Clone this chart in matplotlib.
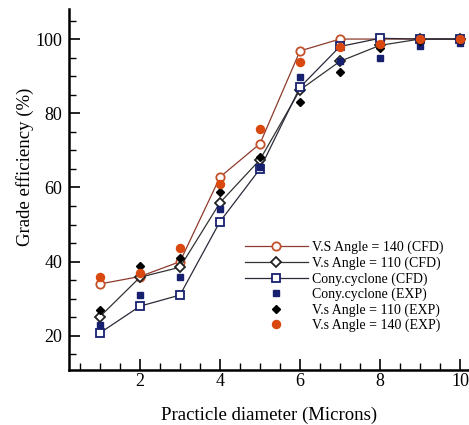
import matplotlib
matplotlib.use("Agg")
import matplotlib.pyplot as plt
from matplotlib.ticker import MultipleLocator

plt.rcParams['font.family'] = ['Liberation Serif', 'DejaVu Serif']

x = [1, 2, 3, 4, 5, 6, 7, 8, 9, 10]
vs140_cfd = [34.0, 36.0, 40.0, 62.8, 71.8, 96.8, 100.0, 100.0, 100.0, 100.0]
vs110_cfd = [25.2, 35.8, 38.5, 55.9, 67.5, 86.3, 94.0, 98.3, 100.0, 100.0]
cony_cfd = [20.8, 28.0, 31.0, 50.8, 65.0, 87.0, 98.0, 100.2, 100.0, 100.0]
cony_exp = [22.8, 31.1, 36.0, 54.2, 65.5, 89.8, 94.2, 94.8, 98.0, 98.9]
vs110_exp = [27.0, 38.9, 41.0, 58.9, 68.3, 82.9, 91.0, 97.5, 99.5, 99.8]
vs140_exp = [35.9, 36.9, 43.8, 61.0, 75.8, 93.9, 97.9, 98.8, 100.0, 100.0]

labels = ["V.S Angle = 140 (CFD)", "V.s Angle = 110 (CFD)", "Cony.cyclone (CFD)",
          "Cony.cyclone (EXP)", "V.s Angle = 110 (EXP)", "V.s Angle = 140 (EXP)"]

fig = plt.figure(figsize=(4.69, 4.25), dpi=100)
ax = fig.add_axes([69/469, 1-370/425, 1-69/469, (370-9)/425])

brown_line = '#8e3a2c'
brown_mk = '#c4502a'
orange = '#d9480f'
navy = '#17206e'

ms = 5.5
ax.plot(x, vs140_cfd, '-', color=brown_line, lw=0.9, marker='o', ms=ms+0.5,
        mfc='white', mec=brown_mk, mew=1.3, label=labels[0], zorder=3)
ax.plot(x, vs110_cfd, '-', color='#333333', lw=0.9, marker='D', ms=ms-0.5,
        mfc='white', mec='#222222', mew=1.3, label=labels[1], zorder=3)
ax.plot(x, cony_cfd, '-', color='#2a2a3a', lw=0.9, marker='s', ms=ms,
        mfc='white', mec=navy, mew=1.3, label=labels[2], zorder=3)
ax.plot(x, cony_exp, 's', color=navy, ms=ms-0.7, label=labels[3], zorder=4)
ax.plot(x, vs110_exp, 'D', color='black', ms=ms-1.0, label=labels[4], zorder=4)
ax.plot(x, vs140_exp, 'o', color=orange, ms=ms+0.3, label=labels[5], zorder=5)

ax.set_xlim(0.225, 10.225)
ax.set_ylim(10.8, 108.1)
ax.xaxis.set_minor_locator(MultipleLocator(0.5))
ax.yaxis.set_minor_locator(MultipleLocator(5))
ax.set_yticks([20, 40, 60, 80, 100])
ax.set_xticks([2, 4, 6, 8, 10])

for s in ['top', 'right']:
    ax.spines[s].set_visible(False)
for s in ['left', 'bottom']:
    ax.spines[s].set_linewidth(1.8)

ax.tick_params(which='major', direction='in', length=8, width=1.2, labelsize=13)
ax.tick_params(axis='x', which='major', pad=2)
ax.tick_params(axis='y', which='major', pad=5)
ax.tick_params(which='minor', direction='in', length=5, width=1.0)

ax.set_xlabel('Practicle diameter (Microns)', fontsize=13.5, labelpad=12)
fig.text(25/469, 1-167/425, 'Grade efficiency (%)', fontsize=13.5,
         rotation=90, ha='center', va='center')

leg = ax.legend(loc='upper left', bbox_to_anchor=(245/469, 1-241/425),
                bbox_transform=fig.transFigure, frameon=False, fontsize=10,
                handlelength=4.5, handletextpad=0.35, labelspacing=0.15,
                borderpad=0, borderaxespad=0)

fig.savefig('out.png', dpi=100)
